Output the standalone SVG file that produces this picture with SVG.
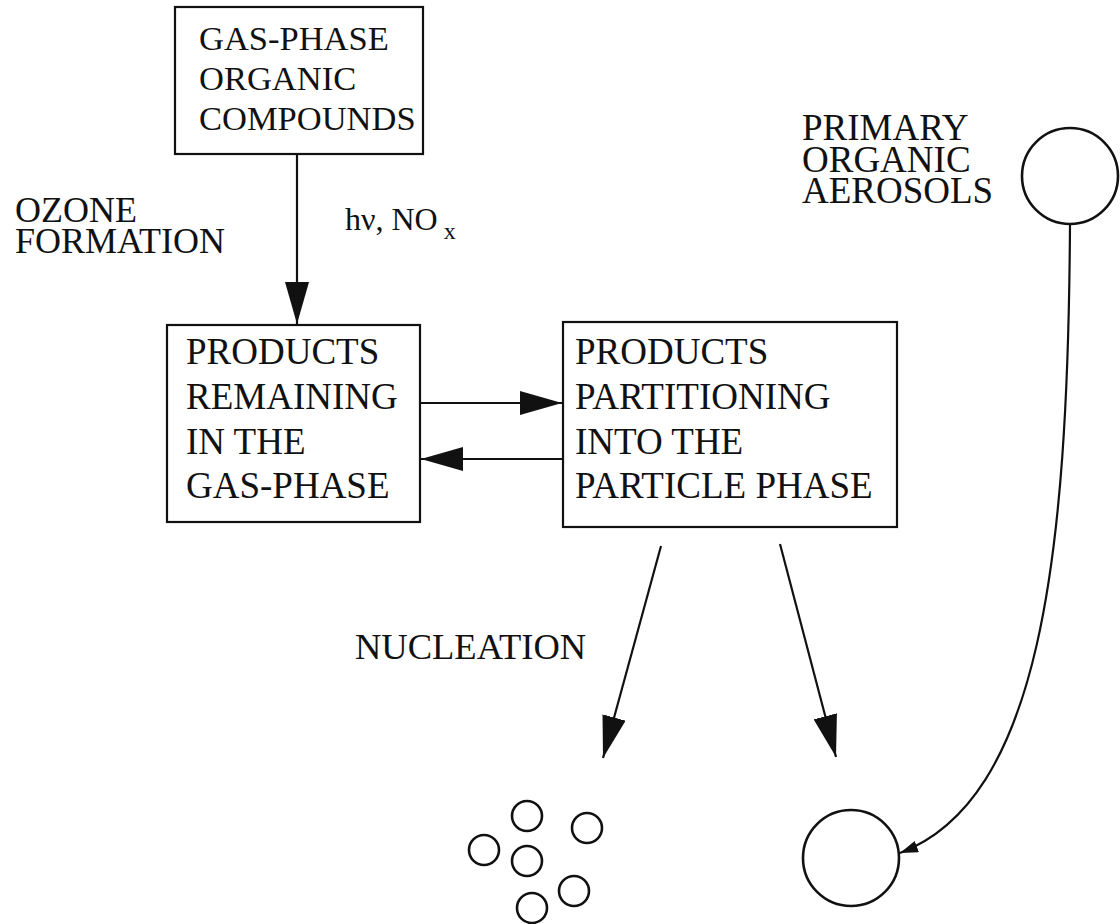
<svg xmlns="http://www.w3.org/2000/svg" width="1120" height="924" viewBox="0 0 1120 924">
<style>
.box{fill:none;stroke:#111;stroke-width:2.2}
.t{fill:#111;font-family:Liberation Serif,Tinos,Times New Roman,Times,Noto Serif,DejaVu Serif,serif}
.ln{fill:none;stroke:#111;stroke-width:2.2}
.c{fill:none;stroke:#111;stroke-width:2.6}
</style>
<defs>
<marker id="ah" viewBox="0 0 42 24" refX="42" refY="12" markerWidth="42" markerHeight="24" markerUnits="userSpaceOnUse" orient="auto">
<path d="M0,0 L42,12 L0,24 Z" fill="#111"/>
</marker>
<marker id="ahs" viewBox="0 0 18 12" refX="18" refY="6" markerWidth="18" markerHeight="12" markerUnits="userSpaceOnUse" orient="auto">
<path d="M0,0 L18,6 L0,12 Z" fill="#111"/>
</marker>
</defs>
<rect width="1120" height="924" fill="#fff"/>
<g id="connectors">
<line class="ln" x1="297" y1="154" x2="297" y2="324" marker-end="url(#ah)"/>
<line class="ln" x1="420" y1="403" x2="562" y2="403" marker-end="url(#ah)"/>
<line class="ln" x1="563" y1="459" x2="421" y2="459" marker-end="url(#ah)"/>
<line class="ln" x1="661" y1="546" x2="603" y2="758" marker-end="url(#ah)"/>
<line class="ln" x1="780" y1="544" x2="836" y2="757" marker-end="url(#ah)"/>
<path class="ln" d="M1070,224 C1068,560 1040,800 900,853" marker-end="url(#ahs)"/>
</g>
<g id="gas-phase-organic">
<rect class="box" x="175" y="7" width="248" height="147"/>
<text class="t" font-size="34.5" x="199" y="50">GAS-PHASE</text>
<text class="t" font-size="34.5" x="199" y="90">ORGANIC</text>
<text class="t" font-size="34.5" x="199" y="130">COMPOUNDS</text>
</g>
<g id="ozone-label">
<text class="t" font-size="36" x="15" y="222">OZONE</text>
<text class="t" font-size="36" x="15" y="253">FORMATION</text>
</g>
<g id="hv-label">
<text class="t" font-size="32" x="345" y="230">hν, NO<tspan font-size="24" dx="6" dy="9">x</tspan></text>
</g>
<g id="products-gas">
<rect class="box" x="167" y="325" width="253" height="197"/>
<text class="t" font-size="37" x="186" y="364">PRODUCTS</text>
<text class="t" font-size="37" x="186" y="409">REMAINING</text>
<text class="t" font-size="37" x="186" y="454">IN THE</text>
<text class="t" font-size="37" x="186" y="498">GAS-PHASE</text>
</g>
<g id="products-particle">
<rect class="box" x="563" y="322" width="334" height="205"/>
<text class="t" font-size="37" x="575" y="364">PRODUCTS</text>
<text class="t" font-size="37" x="575" y="409">PARTITIONING</text>
<text class="t" font-size="37" x="575" y="454">INTO THE</text>
<text class="t" font-size="37" x="575" y="498">PARTICLE PHASE</text>
</g>
<g id="primary-label">
<text class="t" font-size="37" x="802" y="140">PRIMARY</text>
<text class="t" font-size="37" x="802" y="172">ORGANIC</text>
<text class="t" font-size="37" x="802" y="203">AEROSOLS</text>
</g>
<g id="nucleation-label">
<text class="t" font-size="36.5" x="355" y="659">NUCLEATION</text>
</g>
<g id="primary-particle">
<circle class="c" cx="1070" cy="176" r="48"/>
</g>
<g id="nucleated-particles">
<circle class="c" cx="527" cy="816" r="15"/>
<circle class="c" cx="587" cy="828" r="15"/>
<circle class="c" cx="484" cy="850" r="15"/>
<circle class="c" cx="527" cy="861" r="15"/>
<circle class="c" cx="574" cy="891" r="15"/>
<circle class="c" cx="532" cy="908" r="15"/>
</g>
<g id="aerosol-particle">
<circle class="c" cx="851" cy="858" r="48"/>
</g>
</svg>
